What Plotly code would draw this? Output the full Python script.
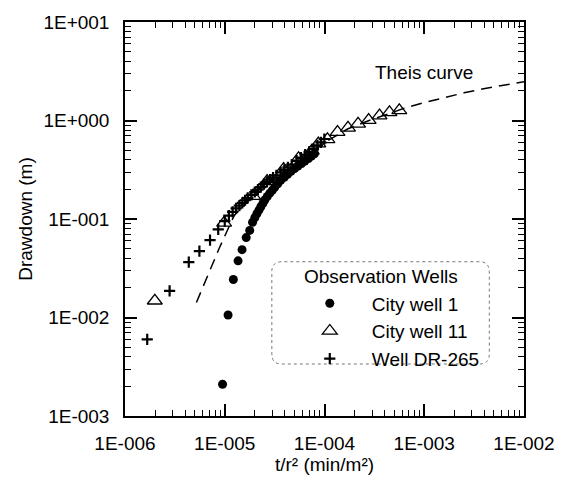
import plotly.graph_objects as go

# ---- data ----
cw1_x = [9.5e-6, 1.08e-5, 1.22e-5, 1.36e-5, 1.49e-5, 1.64e-5, 1.78e-5, 1.90e-5, 2.00e-5, 2.10e-5,
         2.20e-5, 2.30e-5, 2.41e-5, 2.52e-5, 2.67e-5, 2.83e-5, 3.00e-5, 3.17e-5, 3.40e-5, 3.64e-5,
         3.95e-5, 4.27e-5, 4.62e-5, 5.01e-5, 5.42e-5, 5.88e-5, 6.36e-5, 6.90e-5, 7.40e-5, 7.92e-5]
cw1_y = [0.0021, 0.0106, 0.0243, 0.0376, 0.0488, 0.0648, 0.0766, 0.0927, 0.103, 0.113,
         0.123, 0.133, 0.144, 0.156, 0.169, 0.183, 0.196, 0.210, 0.228, 0.247,
         0.265, 0.284, 0.305, 0.326, 0.345, 0.366, 0.388, 0.411, 0.435, 0.460]

cw11_x = [1.99e-6, 9.86e-6, 1.93e-5, 2.66e-5, 3.89e-5, 5.49e-5, 7.45e-5, 8.67e-5, 1.07e-4, 1.35e-4,
          1.72e-4, 2.17e-4, 2.77e-4, 3.56e-4, 4.48e-4, 5.62e-4]
cw11_y = [0.0148, 0.0914, 0.171, 0.242, 0.321, 0.413, 0.493, 0.583, 0.644, 0.762,
          0.841, 0.923, 1.01, 1.12, 1.21, 1.27]

dr_x = [1.67e-6, 2.80e-6, 4.36e-6, 5.57e-6, 7.12e-6, 8.6e-6, 1.0e-5, 1.1e-5, 1.2e-5, 1.3e-5,
        1.4e-5, 1.5e-5, 1.6e-5, 1.7e-5, 1.85e-5, 2.0e-5, 2.15e-5, 2.3e-5, 2.47e-5, 2.65e-5,
        2.85e-5, 3.05e-5, 3.3e-5, 3.64e-5, 3.95e-5, 4.3e-5, 4.7e-5, 5.25e-5, 5.8e-5, 6.4e-5,
        7.0e-5, 7.75e-5, 8.5e-5, 9.2e-5, 9.96e-5]
dr_y = [0.0060, 0.0186, 0.0365, 0.0473, 0.0609, 0.0783, 0.095, 0.108, 0.118, 0.128,
        0.137, 0.146, 0.155, 0.164, 0.176, 0.188, 0.199, 0.211, 0.226, 0.238,
        0.251, 0.263, 0.277, 0.297, 0.315, 0.335, 0.356, 0.392, 0.42, 0.45,
        0.48, 0.516, 0.56, 0.60, 0.649]

theis_x = [5.2e-6, 7.0e-6, 8.8e-6, 1.24e-5, 1.9e-5, 2.7e-5, 3.9e-5, 5.5e-5, 7.5e-5, 1.07e-4,
           1.7e-4, 2.8e-4, 4.5e-4, 6.3e-4, 1.0e-3, 1.58e-3, 2.5e-3, 3.94e-3, 6.3e-3, 1.0e-2]
theis_y = [0.0142, 0.0294, 0.0504, 0.108, 0.175, 0.245, 0.325, 0.41, 0.49, 0.62,
           0.82, 1.0, 1.18, 1.33, 1.52, 1.71, 1.91, 2.10, 2.29, 2.48]

x_tickvals = [1e-6, 1e-5, 1e-4, 1e-3, 1e-2]
x_ticktext = ["1E-006", "1E-005", "1E-004", "1E-003", "1E-002"]
y_tickvals = [1e-3, 1e-2, 1e-1, 1e0, 1e1]
y_ticktext = ["1E-003", "1E-002", "1E-001", "1E+000", "1E+001"]

FONT = "Liberation Sans, Arial, sans-serif"
FS = 19

x_minor = [m * 10.0 ** e for e in range(-6, -2) for m in range(2, 10)]
y_minor = [m * 10.0 ** e for e in range(-3, 1) for m in range(2, 10)]

fig = go.Figure()
fig.add_trace(go.Scatter(x=theis_x, y=theis_y, mode="lines", showlegend=False,
                         line=dict(color="black", width=1.5, dash="11px,7px")))
fig.add_trace(go.Scatter(x=cw1_x, y=cw1_y, mode="markers", name="City well 1",
                         marker=dict(symbol="circle", size=9, color="black")))
fig.add_trace(go.Scatter(x=cw11_x, y=cw11_y, mode="markers", name="City well 11",
                         marker=dict(symbol="triangle-up-open", size=13, color="black",
                                     line=dict(width=1.3, color="black"))))
fig.add_trace(go.Scatter(x=dr_x, y=dr_y, mode="markers", name="Well DR-265",
                         marker=dict(symbol="cross-thin-open", size=8, color="black",
                                     line=dict(width=2.2, color="black"))))

axis_common = dict(type="log", showline=True, linecolor="black", linewidth=1.5,
                   mirror="allticks", ticks="inside", ticklen=12, tickwidth=1.5,
                   tickcolor="black", showgrid=False, zeroline=False,
                   tickfont=dict(family=FONT, size=FS, color="black"))

fig.update_xaxes(range=[-6, -2], tickmode="array", tickvals=x_tickvals, ticktext=x_ticktext,
                 minor=dict(tickmode="array", tickvals=x_minor, ticks="inside", ticklen=6,
                            tickwidth=1.3, tickcolor="black", showgrid=False),
                 title=dict(text="t/r² (min/m²)", font=dict(family=FONT, size=FS, color="black"),
                            standoff=4),
                 ticklabelstandoff=9, **axis_common)
fig.update_yaxes(range=[-3, 1], tickmode="array", tickvals=y_tickvals, ticktext=y_ticktext,
                 minor=dict(tickmode="array", tickvals=y_minor, ticks="inside", ticklen=6,
                            tickwidth=1.3, tickcolor="black", showgrid=False),
                 title=dict(text="Drawdown (m)", font=dict(family=FONT, size=FS, color="black"),
                            standoff=6),
                 ticklabelstandoff=10, **axis_common)

# rounded legend frame
x0, x1, y0, y1 = 0.368, 0.913, 0.132, 0.3915
rx, ry = 0.025, 0.025
path = (f"M {x0+rx},{y0} L {x1-rx},{y0} Q {x1},{y0} {x1},{y0+ry} L {x1},{y1-ry} "
        f"Q {x1},{y1} {x1-rx},{y1} L {x0+rx},{y1} Q {x0},{y1} {x0},{y1-ry} "
        f"L {x0},{y0+ry} Q {x0},{y0} {x0+rx},{y0} Z")
fig.add_shape(type="path", path=path, xref="paper", yref="paper",
              line=dict(color="#777777", width=1, dash="dot"), fillcolor="rgba(0,0,0,0)")

fig.add_annotation(x=0.6405, y=0.354, xref="paper", yref="paper", text="Observation Wells",
                   showarrow=False, font=dict(family=FONT, size=FS, color="black"))

fig.add_annotation(x=-3.0, y=0.49, xref="x", yref="y", text="Theis curve", showarrow=False,
                   font=dict(family=FONT, size=FS, color="black"))

fig.update_layout(
    width=567, height=483,
    margin=dict(l=125, r=40, t=18, b=64),
    paper_bgcolor="white", plot_bgcolor="white",
    font=dict(family=FONT, size=FS, color="black"),
    legend=dict(x=0.408, y=0.334, xanchor="left", yanchor="top",
                bgcolor="rgba(0,0,0,0)", borderwidth=0,
                font=dict(family=FONT, size=FS, color="black"),
                itemwidth=74, tracegroupgap=0),
)

fig.write_html("out.html", config={"displayModeBar": False},
               post_script="document.body.style.margin='0';")
